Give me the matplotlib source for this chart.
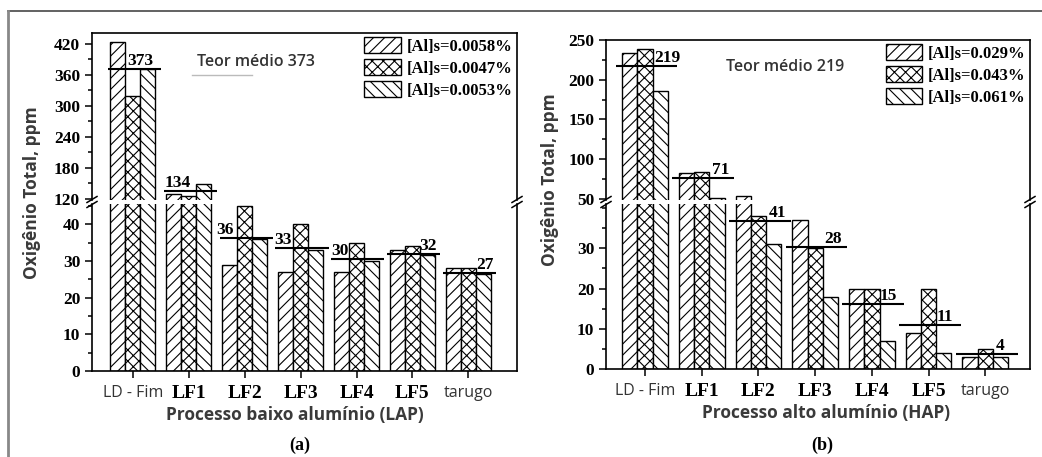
import matplotlib
matplotlib.use("Agg")
import matplotlib.pyplot as plt
from matplotlib.lines import Line2D
from matplotlib.patches import Patch
from matplotlib.ticker import MultipleLocator, FixedLocator
import numpy as np

# ---------------- data ----------------
categories = ["LD - Fim", "LF1", "LF2", "LF3", "LF4", "LF5", "tarugo"]

a_labels = ["[Al]s=0.0058%", "[Al]s=0.0047%", "[Al]s=0.0053%"]
a_s1 = [423, 129, 29, 27, 27, 33, 28]
a_s2 = [320, 125, 45, 40, 35, 34, 28]
a_s3 = [372, 148, 36, 33, 30, 31.5, 26.5]
a_mean_line = [372, 134.5, 36.3, 33.4, 30.4, 31.8, 26.7]
a_mean_text = ["373", "134", "36", "33", "30", "32", "27"]
a_up_ticks = [120, 180, 240, 300, 360, 420]
a_lo_ticks = [0, 10, 20, 30, 40]

b_labels = ["[Al]s=0.029%", "[Al]s=0.043%", "[Al]s=0.061%"]
b_s1 = [233, 82, 54, 37, 20, 9, 3]
b_s2 = [239, 84, 38, 30, 20, 20, 5]
b_s3 = [186, 51, 31, 18, 7, 4, 3]
b_mean_line = [217, 76.5, 36.7, 30.4, 16.2, 10.9, 3.8]
b_mean_text = ["219", "71", "41", "28", "15", "11", "4"]
b_up_ticks = [50, 100, 150, 200, 250]
b_lo_ticks = [0, 10, 20, 30]

# ---------------- style ----------------
W, H = 1042, 457
SERIF = "Liberation Serif"
SANS = "Open Sans"
plt.rcParams["hatch.linewidth"] = 0.8
plt.rcParams["font.family"] = [SERIF, "DejaVu Sans"]

fig = plt.figure(figsize=(W / 100, H / 100), dpi=100)
fig.patch.set_facecolor("white")


def pax(x0, x1, y0, y1):
    return fig.add_axes([x0 / W, 1 - y1 / H, (x1 - x0) / W, (y1 - y0) / H])


def fx(px):
    return px / W


def fy(py):
    return 1 - py / H


hatches = ["///", "xxx", "\\\\\\"]
barw = 0.27
offsets = [-0.27, 0.0, 0.27]


def panel(xr, up_y, lo_y, up_lim, lo_lim, xlim, series, leg_labels,
          mean_line, mean_text, text_dx, up_ticks, up_minor, lo_ticks,
          lo_minor, line_ext):
    axu = pax(xr[0], xr[1], up_y[0], up_y[1])
    axl = pax(xr[0], xr[1], lo_y[0], lo_y[1])
    x = np.arange(len(categories))
    for ax in (axu, axl):
        for s, h, off in zip(series, hatches, offsets):
            ax.bar(x + off, s, width=barw, facecolor="white", edgecolor="black",
                   hatch=h, linewidth=1.0)
        for xi, m in zip(x, mean_line):
            ax.plot([xi + line_ext[0], xi + line_ext[1]], [m, m], color="black",
                    lw=1.5, solid_capstyle="butt")
        ax.set_xlim(*xlim)
        for sp in ax.spines.values():
            sp.set_linewidth(1.2)
        ax.tick_params(axis="y", which="both", direction="out", left=True,
                       right=False, labelsize=12.5, width=1.1)
        ax.tick_params(axis="y", which="major", length=5)
        ax.tick_params(axis="y", which="minor", length=3)
    axu.set_ylim(*up_lim)
    axl.set_ylim(*lo_lim)
    axu.spines["bottom"].set_visible(False)
    axl.spines["top"].set_visible(False)
    axu.tick_params(axis="x", which="both", bottom=False, top=False,
                    labelbottom=False)
    axu.yaxis.set_major_locator(FixedLocator(up_ticks))
    axu.yaxis.set_minor_locator(MultipleLocator(up_minor))
    axl.yaxis.set_major_locator(FixedLocator(lo_ticks))
    axl.yaxis.set_minor_locator(MultipleLocator(lo_minor))
    for ax in (axu, axl):
        for t in ax.get_yticklabels():
            t.set_fontweight("bold")
            t.set_fontfamily(SERIF)
    axl.set_xticks(x)
    axl.set_xticklabels(categories)
    axl.tick_params(axis="x", direction="out", length=5, width=1.1, pad=5)
    for t in axl.get_xticklabels():
        if t.get_text().startswith("LF"):
            t.set_fontfamily(SERIF)
            t.set_fontweight("bold")
            t.set_fontsize(14)
        else:
            t.set_fontfamily(SANS)
            t.set_fontsize(11.5)
            t.set_color("#333333")
    # mean labels
    for xi, m, txt, dx in zip(x, mean_line, mean_text, text_dx):
        ax = axl if m < lo_lim[1] else axu
        ax.text(xi + dx, m, txt, ha="center", va="bottom", fontsize=12.5,
                fontweight="bold", family=SERIF)
    # legend
    handles = [Patch(facecolor="white", edgecolor="black", hatch=h, lw=1.0)
               for h in hatches]
    axu.legend(handles, leg_labels, loc="upper right", frameon=False,
               prop={"family": SERIF, "weight": "bold", "size": 12},
               handlelength=2.2, handleheight=1.05, labelspacing=0.28,
               borderaxespad=0.15, borderpad=0.1, handletextpad=0.35)
    # break marks
    gap_top, gap_bot = up_y[1], lo_y[0]
    for sx in xr:
        for gy in (gap_top - 0.5, gap_bot + 0.5):
            fig.add_artist(Line2D([fx(sx - 5), fx(sx + 5)],
                                  [fy(gy + 3), fy(gy - 3)], color="black",
                                  lw=1.1))
    return axu, axl


axu_a, axl_a = panel((92, 517), (33, 200), (204, 371), (118, 441), (0, 45.5),
                     (-0.73, 6.87), [a_s1, a_s2, a_s3], a_labels, a_mean_line,
                     a_mean_text, [0.13, -0.2, -0.36, -0.32, -0.3, 0.27, 0.3],
                     a_up_ticks, 30, a_lo_ticks, 5, (-0.45, 0.5))
axu_b, axl_b = panel((606, 1030), (40, 200), (204, 369), (48.5, 250), (0, 41),
                     (-0.69, 6.79), [b_s1, b_s2, b_s3], b_labels, b_mean_line,
                     b_mean_text, [0.39, 0.33, 0.33, 0.32, 0.29, 0.29, 0.26],
                     b_up_ticks, 25, b_lo_ticks, 5, (-0.52, 0.57))

# "Teor médio" annotations
axu_a.text(2.2, 384, "Teor médio 373", ha="center", va="center", fontsize=11.5,
           family=SANS, fontweight="semibold", color="#333333")
axu_a.plot([1.05, 2.14], [360, 360], color="#bbbbbb", lw=1)
axu_b.text(2.47, 216, "Teor médio 219", ha="center", va="center", fontsize=11.5,
           family=SANS, fontweight="semibold", color="#333333")

# axis labels
lab_kw = dict(family=SANS, fontweight="bold", fontsize=12.5, color="#3a3a3a")
fig.text(fx(32), fy(193), "Oxigênio Total, ppm", rotation=90, ha="center",
         va="center", **lab_kw)
fig.text(fx(550), fy(180), "Oxigênio Total, ppm", rotation=90, ha="center",
         va="center", **lab_kw)
fig.text(fx(295), fy(415), "Processo baixo alumínio (LAP)", ha="center",
         va="center", **lab_kw)
fig.text(fx(826), fy(413), "Processo alto alumínio (HAP)", ha="center",
         va="center", **lab_kw)
fig.text(fx(300), fy(445), "(a)", ha="center", va="center", family=SERIF,
         fontweight="bold", fontsize=13)
fig.text(fx(822), fy(445), "(b)", ha="center", va="center", family=SERIF,
         fontweight="bold", fontsize=13)

# outer frame lines (top and left)
fig.add_artist(Line2D([fx(8), 1], [fy(11), fy(11)], color="#555555", lw=1.3))
fig.add_artist(Line2D([fx(8), fx(8)], [fy(11), 0], color="#888888", lw=2))

fig.savefig("out.png", dpi=100, facecolor="white")
